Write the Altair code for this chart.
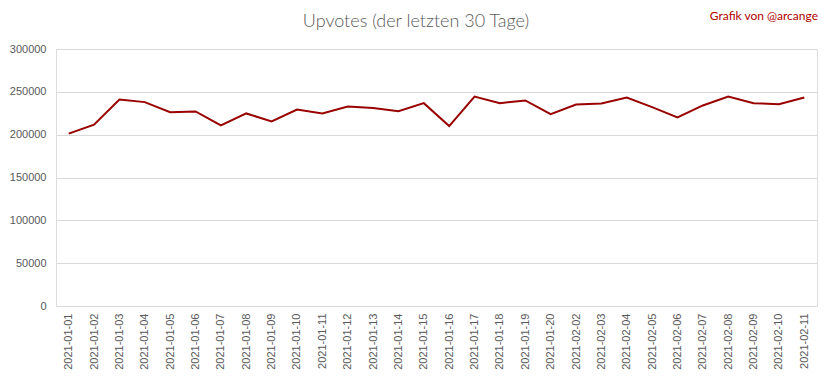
import altair as alt
import pandas as pd

dates = [
    "2021-01-01", "2021-01-02", "2021-01-03", "2021-01-04", "2021-01-05",
    "2021-01-06", "2021-01-07", "2021-01-08", "2021-01-09", "2021-01-10",
    "2021-01-11", "2021-01-12", "2021-01-13", "2021-01-14", "2021-01-15",
    "2021-01-16", "2021-01-17", "2021-01-18", "2021-01-19", "2021-01-20",
    "2021-02-02", "2021-02-03", "2021-02-04", "2021-02-05", "2021-02-06",
    "2021-02-07", "2021-02-08", "2021-02-09", "2021-02-10", "2021-02-11",
]
upvotes = [
    201200, 211600, 241000, 238000, 226300, 227100, 210800, 224800, 215500, 229400,
    224800, 232900, 231000, 227400, 236800, 210000, 244500, 236800, 239900, 224000,
    235200, 236400, 243400, 232100, 220100, 234100, 244500, 236800, 235600, 243400,
]
y_ticks = [0, 50000, 100000, 150000, 200000, 250000, 300000]

df = pd.DataFrame({"date": dates, "upvotes": upvotes})

line = alt.Chart(df).mark_line(color="#990000", strokeWidth=2).encode(
    x=alt.X("date:N", sort=dates, title=None,
            scale=alt.Scale(type="point", padding=0.5),
            axis=alt.Axis(labelAngle=-90, labelFontSize=11, labelColor="#595959",
                          labelFont="Liberation Sans", ticks=False, domain=False,
                          labelPadding=7, grid=False)),
    y=alt.Y("upvotes:Q", title=None,
            scale=alt.Scale(domain=[0, 300000], nice=False, zero=True),
            axis=alt.Axis(values=y_ticks, format="d", labelFontSize=11,
                          labelColor="#595959", labelFont="Liberation Sans",
                          ticks=False, domain=False, labelPadding=10,
                          grid=True, gridColor="#d9d9d9", gridWidth=1)),
)

title = alt.Chart(pd.DataFrame({"t": ["Upvotes (der letzten 30 Tage)"]})).mark_text(
    align="center", baseline="middle", fontSize=18, color="#595959",
    font="Lato", fontWeight=300
).encode(x=alt.value(360), y=alt.value(-27), text="t:N")

credit = alt.Chart(pd.DataFrame({"t": ["Grafik von @arcange"]})).mark_text(
    align="right", baseline="middle", fontSize=12, color="#b00000",
    font="Lato"
).encode(x=alt.value(762), y=alt.value(-33), text="t:N")

chart = alt.layer(line, title, credit).properties(
    width=761, height=257,
    autosize=alt.AutoSizeParams(type="none"),
    padding={"left": 48, "top": 41, "right": 7, "bottom": 65},
).configure_view(stroke=None).configure(background="white")

chart.save("out.html", embed_options={"renderer": "svg", "actions": False})
